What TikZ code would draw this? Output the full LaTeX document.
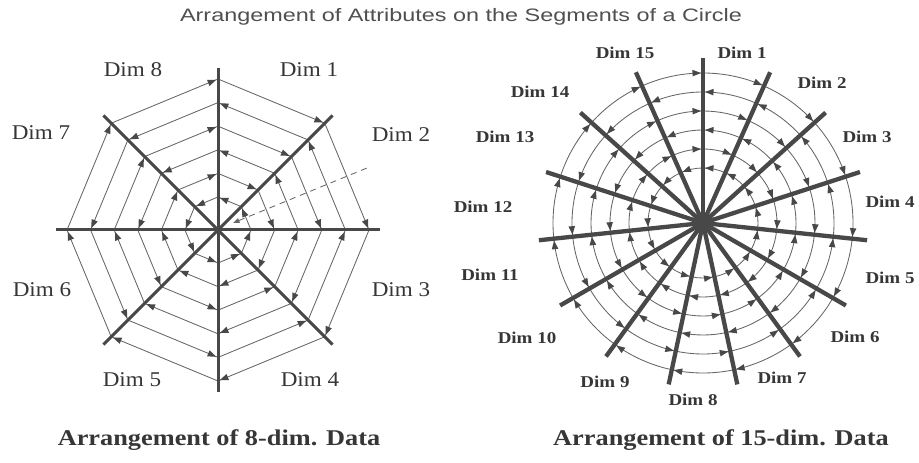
\documentclass[tikz,border=0pt]{standalone}
\usepackage{fontspec}
\usepackage{graphicx}
\setmainfont{Liberation Serif}
\newfontfamily\titlefont{Liberation Sans}
\usetikzlibrary{arrows.meta,decorations.markings}
\definecolor{axc}{HTML}{484848}
\definecolor{rgc}{HTML}{666666}
\definecolor{txc}{HTML}{363636}
\definecolor{ttc}{HTML}{505050}
\newcommand\hs[2][1.16]{\scalebox{#1}[1]{#2}}
\begin{document}
\begin{tikzpicture}[x=1pt,y=1pt,
  axisL/.style={color=axc, line width=3pt},
  axisR/.style={color=axc, line width=4.3pt},
  ring/.style={color=rgc, line width=0.85pt},
  tipend/.style={postaction={decorate},
    decoration={markings, mark=at position -2pt with {\fill[axc] (0pt,0pt) -- (-8.5pt,3.3pt) -- (-8.5pt,-3.3pt) -- cycle;}}},
  lblL/.style={text=txc, font=\fontsize{21}{23}\selectfont},
  lblR/.style={text=txc, font=\bfseries\fontsize{16.5}{18}\selectfont},
  captxt/.style={text=txc, font=\bfseries\fontsize{22.5}{24}\selectfont},
  ttl/.style={text=ttc, font=\titlefont\fontsize{18}{20}\selectfont}]
\fill[white] (0,0) rectangle (919,463);
\useasboundingbox (0,0) rectangle (919,463);
\coordinate (CL) at (218,233);
\coordinate (CR) at (703,240);

% ---- left: 8 segments ----
\begin{scope}[shift={(CL)}]
  \foreach \k in {0,...,7} {
    \pgfmathsetmacro\aa{90-45*\k}
    \pgfmathsetmacro\bb{\aa-45}
    \foreach \i in {1,...,6} {
      \pgfmathsetmacro\r{33+23.6*(\i-1)}
      \ifodd\i
        \draw[ring,tipend] (\bb:\r) -- (\aa:\r);
      \else
        \draw[ring,tipend] (\aa:\r) -- (\bb:\r);
      \fi
    }
  }
  \draw[ring, dash pattern=on 6pt off 5pt, -{Triangle[length=6pt,width=5pt]}] (22.6:161) -- (25:17);
  \foreach \k in {0,...,7} {
    \draw[axisL] (0,0) -- ({45*\k}:162);
  }
\end{scope}

% ---- right: 15 segments ----
\begin{scope}[shift={(CR)}]
  \foreach \k in {0,...,14} {
    \pgfmathsetmacro\aa{90-24*\k}
    \pgfmathsetmacro\bb{\aa-24}
    \foreach \i in {1,...,6} {
      \pgfmathsetmacro\r{55+19*(\i-1)}
      \ifodd\i
        \draw[ring,tipend] (\bb:\r) arc[start angle=\bb, end angle=\aa, radius=\r];
      \else
        \draw[ring,tipend] (\aa:\r) arc[start angle=\aa, end angle=\bb, radius=\r];
      \fi
    }
  }
  \foreach \k in {0,...,14} {
    \draw[axisR] (0,0) -- ({90-24*\k}:165);
  }
  \fill[axc] (0,0) circle (10);
\end{scope}

% ---- labels ----
\foreach \n/\x/\y in {1/309/393, 2/401/328, 3/401/173, 4/310/83, 5/132/83, 6/42/173, 7/41/330, 8/133/393}
  \node[lblL] (L\n) at (\x,\y) {\hs[1.1]{Dim \n}};
\foreach \n/\x/\y in {1/742/410, 2/822/380, 3/867/326, 4/890/261, 5/890/185, 6/855/126, 7/782/85, 8/693/63,
  9/605/81, 10/527/125, 11/490/188, 12/483/256, 13/505/326, 14/540/371, 15/625/410}
  \node[lblR] (R\n) at (\x,\y) {\hs[1.15]{Dim \n}};

\node[ttl] (title) at (461,446) {\hs[1.3]{Arrangement of Attributes on the Segments of a Circle}};
\node[captxt] (capL) at (219,23) {\hs[1.17]{Arrangement of 8-dim. Data}};
\node[captxt] (capR) at (721,23) {\hs[1.17]{Arrangement of 15-dim. Data}};
\end{tikzpicture}
\end{document}
